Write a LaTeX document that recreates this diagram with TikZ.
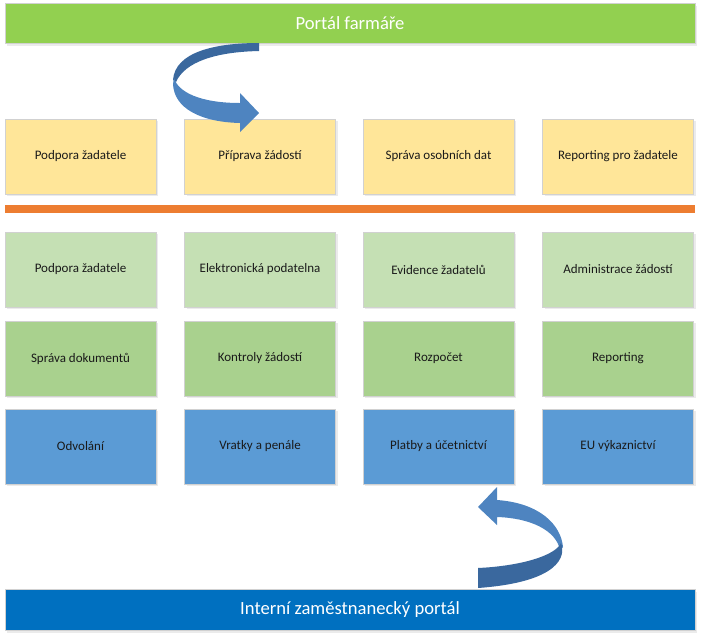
\documentclass[tikz,border=0pt]{standalone}
\usepackage{fontspec}
\setmainfont{Carlito}
\definecolor{topbar}{HTML}{92D050}
\definecolor{botbar}{HTML}{0070C0}
\definecolor{yel}{HTML}{FFE699}
\definecolor{lgreen}{HTML}{C5E0B4}
\definecolor{mgreen}{HTML}{A9D18E}
\definecolor{bl}{HTML}{5B9BD5}
\definecolor{orng}{HTML}{ED7D31}
\definecolor{arrL}{RGB}{78,132,192}
\definecolor{arrD}{RGB}{58,104,158}
\definecolor{txt}{HTML}{1A1A1A}
\begin{document}
\begin{tikzpicture}[x=1pt,y=-1pt,
  box/.style={minimum width=151pt,minimum height=75pt,inner sep=0pt,draw=black!18,line width=0.6pt,
    text=txt,font=\fontsize{13}{15}\selectfont},
  bar/.style={minimum width=690pt,minimum height=40pt,inner sep=0pt,draw=black!18,line width=0.6pt,
    text=white,font=\fontsize{18.6}{22}\selectfont}]
\useasboundingbox (0,0) rectangle (701,638);
% top bar
\fill[black!8] (7,6) rectangle (697,46);
\node[bar,fill=topbar] (top) at (350,23) {Portál farmáře};
% bottom bar
\fill[black!8] (7,592) rectangle (697,633);
\node[bar,fill=botbar,minimum height=41pt] (bot) at (350,609.5) {Interní zaměstnanecký portál};
% orange separator
\fill[orng] (5,205) rectangle (695,213);
% shadows
\foreach \cx in {80.5,260,438.5,618}{
  \foreach \cy in {156.5,269.5,358.5,446.5}{
    \fill[black!8] (\cx-73.5,\cy-35.5) rectangle (\cx+77.5,\cy+39.5);
  }}
% row 1
\node[box,fill=yel] (a1) at (80.5,156.5) {Podpora žadatele};
\node[box,fill=yel] (a2) at (260,156.5) {Příprava žádostí};
\node[box,fill=yel] (a3) at (438.5,156.5) {Správa osobních dat};
\node[box,fill=yel] (a4) at (618,156.5) {Reporting pro žadatele};
% row 2
\node[box,fill=lgreen] (b1) at (80.5,269.5) {Podpora žadatele};
\node[box,fill=lgreen] (b2) at (260,269.5) {Elektronická podatelna};
\node[box,fill=lgreen] (b3) at (438.5,269.5) {Evidence žadatelů};
\node[box,fill=lgreen] (b4) at (618,269.5) {Administrace žádostí};
% row 3
\node[box,fill=mgreen] (c1) at (80.5,358.5) {Správa dokumentů};
\node[box,fill=mgreen] (c2) at (260,358.5) {Kontroly žádostí};
\node[box,fill=mgreen] (c3) at (438.5,358.5) {Rozpočet};
\node[box,fill=mgreen] (c4) at (618,358.5) {Reporting};
% row 4
\node[box,fill=bl] (d1) at (80.5,446.5) {Odvolání};
\node[box,fill=bl] (d2) at (260,446.5) {Vratky a penále};
\node[box,fill=bl] (d3) at (438.5,446.5) {Platby a účetnictví};
\node[box,fill=bl] (d4) at (618,446.5) {EU výkaznictví};
% top curved arrow: dark back part
\fill[arrD] (259,43) .. controls (215,43) and (175,52) .. (173,80)
   -- (176,82) .. controls (185,62) and (215,52) .. (259,51) -- cycle;
% light front part with head
\fill[arrL] (174,78) .. controls (178,92) and (200,103) .. (240,103)
   -- (240,93) -- (259,113) -- (240,132) -- (240,123)
   .. controls (200,122) and (174,108) .. (173,84) -- cycle;
% bottom curved arrow: light part with head
\fill[arrL] (563,547) .. controls (561,525) and (540,503) .. (497,500)
   -- (497,487) -- (478,507) -- (497,525) -- (497,517)
   .. controls (530,518) and (556,530) .. (560,550) -- cycle;
% dark front part
\fill[arrD] (478,568) .. controls (520,566) and (555,556) .. (561,543)
   .. controls (566,556) and (560,582) .. (478,588) -- cycle;
\end{tikzpicture}
\end{document}
